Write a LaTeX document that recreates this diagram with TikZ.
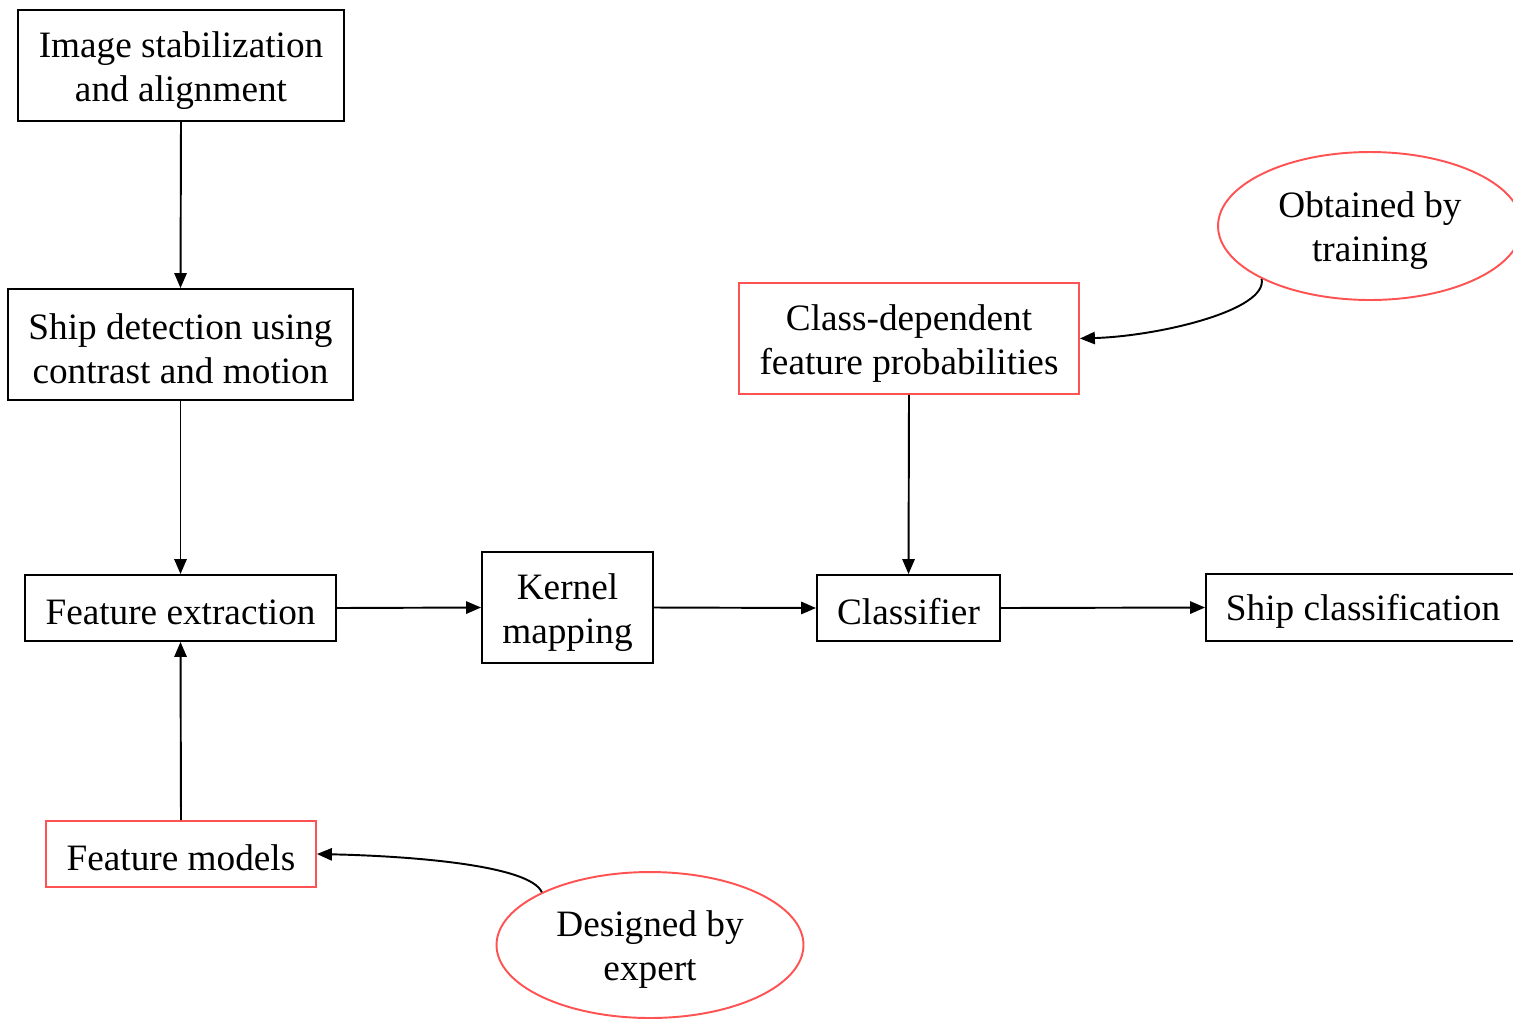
\documentclass[tikz,border=0pt]{standalone}
\usepackage{fontspec}
\setmainfont{Liberation Serif}
\usetikzlibrary{arrows.meta,shapes.geometric}
\definecolor{boxred}{RGB}{255,82,82}
\newcommand\lowertext{\rule{0pt}{19pt}}
\newcommand\lowerfirst{\rule{0pt}{20pt}}
\tikzset{
  box/.style={draw=black, line width=1.1pt, inner sep=0pt, align=center, font=\fontsize{21.2}{25}\selectfont},
  onebox/.style={box, execute at begin node=\lowertext},
  redbox/.style={box, draw=boxred},
  oval/.style={ellipse, draw=boxred, line width=1.1pt, inner sep=0pt, align=center, font=\fontsize{21.2}{25}\selectfont},
  conn/.style={line width=1.1pt, -{Triangle[length=8.5pt,width=7pt]}}
}
\begin{document}
\begin{tikzpicture}[x=0.02cm,y=-0.02cm]
\useasboundingbox (0,0) rectangle (1513,1018);
\node[box, minimum width=6.52cm, minimum height=2.22cm] (isa) at (181,65.5) {\lowerfirst Image stabilization\\and alignment};
\node[box, minimum width=6.9cm, minimum height=2.22cm] (sd) at (180.5,344.5) {\lowerfirst Ship detection using\\contrast and motion};
\node[onebox, minimum width=6.22cm, minimum height=1.32cm] (fe) at (180.5,608) {Feature extraction};
\node[onebox, draw=boxred, minimum width=5.4cm, minimum height=1.32cm] (fm) at (181,854) {Feature models};
\node[box, minimum width=3.42cm, minimum height=2.22cm] (km) at (567.5,607.5) {\lowerfirst Kernel\\mapping};
\node[onebox, minimum width=3.66cm, minimum height=1.32cm] (cl) at (908.5,608) {Classifier};
\node[onebox, minimum width=6.28cm, minimum height=1.34cm] (sc) at (1363,607.5) {Ship classification};
\node[redbox, minimum width=6.8cm, minimum height=2.22cm] (cdp) at (909,338.5) {\lowerfirst Class-dependent\\feature probabilities};
\node[oval, minimum width=6.08cm, minimum height=2.96cm] (obt) at (1370,226) {\lowerfirst Obtained by\\training};
\node[oval, minimum width=6.14cm, minimum height=2.92cm] (des) at (650,945) {\lowerfirst Designed by\\expert};

\draw[conn] (isa.south) -- (sd.north);
\draw[conn] (sd.south) -- (fe.north);
\draw[conn] (fm.north) -- (fe.south);
\draw[conn] (fe.east) -- (km.west);
\draw[conn] (km.east) -- (cl.west);
\draw[conn] (cl.east) -- (sc.west);
\draw[conn] (cdp.south) -- (cl.north);
\draw[conn] (obt.206) .. controls (1268,310) and (1160,336) .. (cdp.east);
\draw[conn] (des.154) .. controls (530,865) and (410,856) .. (fm.east);
\end{tikzpicture}
\end{document}
